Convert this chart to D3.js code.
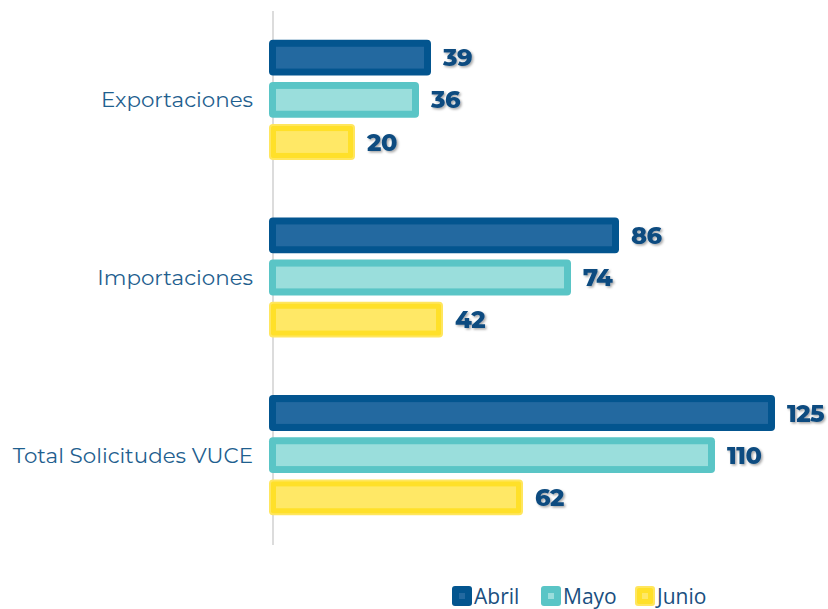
<!DOCTYPE html>
<html><head><meta charset="utf-8">
<script src="https://cdn.jsdelivr.net/npm/d3@7"></script>
<style>body{margin:0;background:#fff}svg{display:block}</style>
</head><body><svg id="c" width="828" height="609"></svg>
<script>
const categories = ["Exportaciones", "Importaciones", "Total Solicitudes VUCE"];
const seriesNames = ["Abril", "Mayo", "Junio"];
const abril = [39, 86, 125];
const mayo = [36, 74, 110];
const junio = [20, 42, 62];
const seriesValues = [abril, mayo, junio];

const outerCol = {Abril:"#03558F", Mayo:"#5AC5C6", Junio:"#FFE65E"};
const bandCol = {Abril:"#03558F", Mayo:"#5AC5C6", Junio:"#FFE029"};
const innerCol = {Abril:"#2369A0", Mayo:"#9ADEDC", Junio:"#FFE866"};

const svg = d3.select("#c");
const x0 = 272;
const x = d3.scaleLinear().domain([0, 125]).range([x0, x0 + 500]);
const y0 = d3.scaleBand().domain(categories).range([11, 544]).paddingInner(0.3).paddingOuter(0.15);
const y1 = d3.scaleBand().domain(seriesNames).range([0, y0.bandwidth()]).paddingInner(0.15).paddingOuter(0.05);

const defs = svg.append("defs");
const f = defs.append("filter").attr("id","sh").attr("x","-20%").attr("y","-20%").attr("width","150%").attr("height","150%");
f.append("feDropShadow").attr("dx",1.5).attr("dy",1.5).attr("stdDeviation",1).attr("flood-color","#000").attr("flood-opacity",0.35);

// axis line
svg.append("line").attr("x1",273).attr("x2",273).attr("y1",11).attr("y2",545)
  .attr("stroke","#D4D4D4").attr("stroke-width",1.6);

const data = [];
categories.forEach((c,i)=>seriesNames.forEach((s,j)=>data.push({c, s, v: seriesValues[j][i]})));

const g = svg.append("g");
const bars = g.selectAll("g.bar").data(data).join("g").attr("class","bar");
bars.each(function(d){
  const sel = d3.select(this);
  const top = y0(d.c) + y1(d.s);
  const h = y1.bandwidth();
  const xl = x0 - 3, xr = x(d.v) + 3;
  sel.append("rect").attr("x",xl).attr("y",top).attr("width",xr-xl).attr("height",h)
    .attr("rx",4).attr("fill",outerCol[d.s]);
  if (d.s === "Junio") {
    sel.append("rect").attr("x",xl+2).attr("y",top+2).attr("width",xr-xl-4).attr("height",h-4)
      .attr("rx",2).attr("fill",bandCol[d.s]);
  }
  sel.append("rect").attr("x",xl+7).attr("y",top+7).attr("width",Math.max(0,xr-xl-14)).attr("height",h-14)
    .attr("fill",innerCol[d.s]);
  sel.append("text").attr("x", xr + 12).attr("y", top + h/2).attr("dy","0.36em")
    .attr("font-family","Montserrat, 'Open Sans', sans-serif").attr("font-weight",800)
    .attr("font-size",24).attr("fill","#0E4C80").attr("filter","url(#sh)")
    .attr("letter-spacing",-0.5)
    .text(d.v);
});

// category labels
svg.append("g").selectAll("text").data(categories).join("text")
  .attr("x",253).attr("y",d=>y0(d)+y0.bandwidth()/2).attr("dy","0.35em")
  .attr("text-anchor","end").attr("font-family","Montserrat, 'Open Sans', sans-serif").attr("font-size",21.4)
  .attr("fill","#1F5F8F").text(d=>d);

// legend
const legX = [452, 541, 635];
const lg = svg.append("g").selectAll("g").data(seriesNames).join("g")
  .attr("transform",(d,i)=>`translate(${legX[i]},586)`);
lg.append("rect").attr("width",20).attr("height",20).attr("rx",3).attr("fill",d=>outerCol[d]);
lg.filter(d=>d==="Junio").append("rect").attr("x",2).attr("y",2).attr("width",16).attr("height",16).attr("rx",2).attr("fill",d=>bandCol[d]);
lg.append("rect").attr("x",7).attr("y",7).attr("width",6).attr("height",6).attr("fill",d=>innerCol[d]);
lg.append("text").attr("x",22).attr("y",10).attr("dy","0.36em")
  .attr("font-family","'Open Sans', sans-serif").attr("font-size",21).attr("fill","#1A4F80").text(d=>d);
</script></body></html>
